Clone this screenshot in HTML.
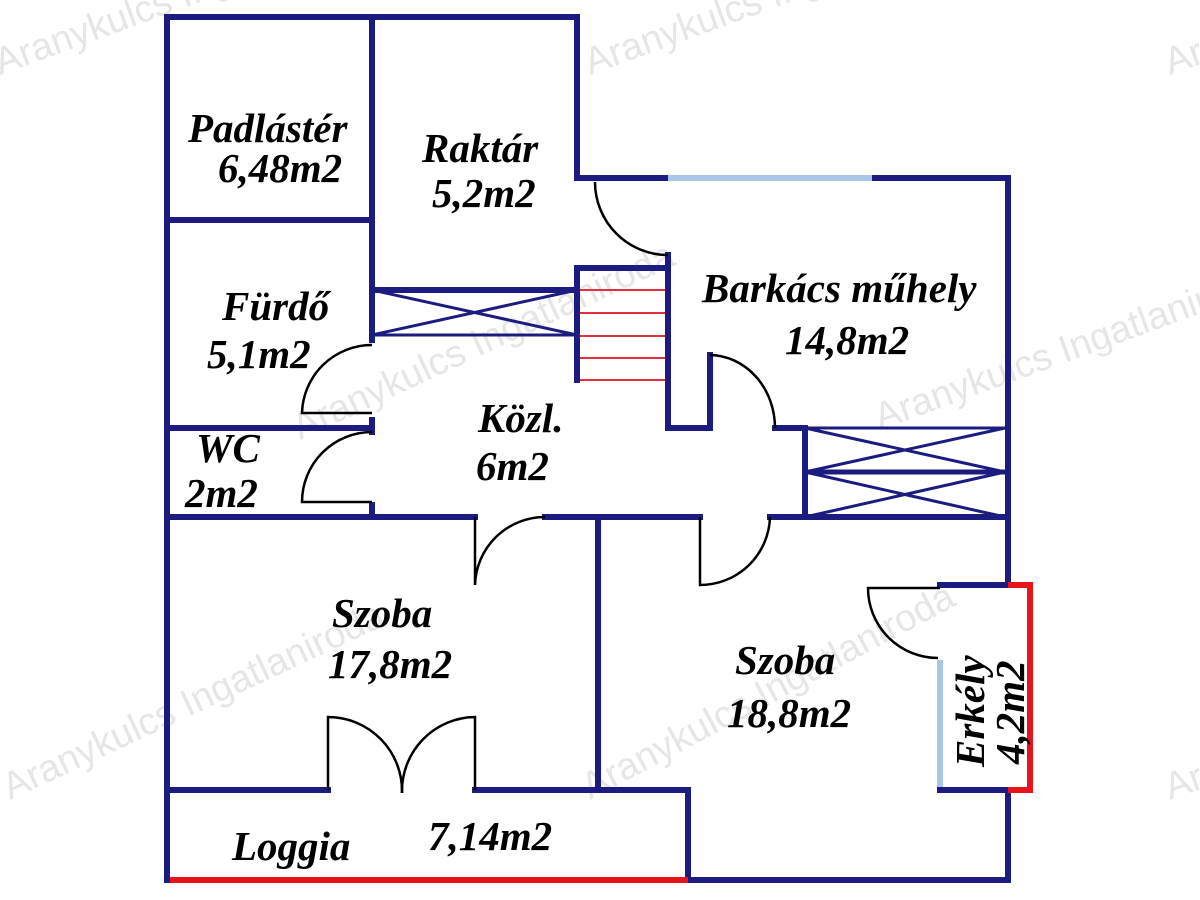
<!DOCTYPE html>
<html><head><meta charset="utf-8"><style>
html,body{margin:0;padding:0;background:#fff;}
svg{display:block;}
text.l{font-family:"Liberation Serif",serif;font-style:italic;font-weight:bold;font-size:41px;fill:#000;}
text.w{font-family:"Liberation Sans",sans-serif;font-size:38px;fill:#e6e6e6;}
</style></head><body>
<svg width="1200" height="900" viewBox="0 0 1200 900" xmlns="http://www.w3.org/2000/svg">
<rect width="1200" height="900" fill="#fff"/>
<g>
<text class="w" transform="translate(0,75) rotate(-20)">Aranykulcs Ingatlaniroda</text>
<text class="w" transform="translate(590,75) rotate(-20)">Aranykulcs Ingatlaniroda</text>
<text class="w" transform="translate(300,440) rotate(-25)">Aranykulcs Ingatlaniroda</text>
<text class="w" transform="translate(880,430) rotate(-20)">Aranykulcs Ingatlaniroda</text>
<text class="w" transform="translate(10,800) rotate(-25)">Aranykulcs Ingatlaniroda</text>
<text class="w" transform="translate(590,800) rotate(-28)">Aranykulcs Ingatlaniroda</text>
<text class="w" transform="translate(1170,75) rotate(-20)">Ar</text>
<text class="w" transform="translate(1170,800) rotate(-20)">Ar</text>
</g>
<g stroke="#1c1c80" stroke-width="6" fill="none" stroke-linecap="square">
<path d="M167,17 V880"/>
<path d="M167,17 H577 V178 H668"/>
<path d="M872,178 H1008 V585 H940"/>
<path d="M940,790 H1008 V880 H688"/>
<path d="M688,880 V790 H475"/>
<path d="M328,790 H167"/>
<path d="M372,17 V340"/>
<path d="M372,420 V432"/>
<path d="M372,505 V517"/>
<path d="M167,220 H372"/>
<path d="M167,428 H372"/>
<path d="M167,517 H475"/>
<path d="M545,517 H700"/>
<path d="M770,517 H1008"/>
<path d="M598,520 V790"/>
<path d="M372,290 H577"/>
<path d="M577,268 H668"/>
<path d="M577,268 V380"/>
<path d="M668,255 V428 H710 V355"/>
<path d="M775,428 H805 V517"/>
<path d="M805,472 H1005" stroke-width="5"/>
</g>
<g stroke="#1c1c80" stroke-width="3" fill="none">
<path d="M372,335 H577 M372,290 L577,335 M372,335 L577,290"/>
<path d="M805,428 H1005 M805,428 L1005,472 M805,472 L1005,428"/>
<path d="M805,517 L1005,472 M805,472 L1005,517"/>
</g>
<path d="M668,178 H872" stroke="#a9c6e8" stroke-width="6"/>
<path d="M940,660 V787" stroke="#a9c6e8" stroke-width="6"/>
<path d="M1008,585 H1030 V790 H1008" stroke="#e8141c" stroke-width="6" fill="none"/>
<path d="M170,880 H688" stroke="#e8141c" stroke-width="6"/>
<g stroke="#e03040" stroke-width="2">
<path d="M580,290 H665 M580,313 H665 M580,336 H665 M580,358 H665 M580,380 H665"/>
</g>
<g stroke="#000" stroke-width="2.5" fill="none">
<path d="M595,182 A73,73 0 0 0 668,255"/>
<path d="M372,345 A70,70 0 0 0 302,413 H372"/>
<path d="M372,432 A70,70 0 0 0 302,502 H372"/>
<path d="M475,517 V585 A70,70 0 0 1 545,517"/>
<path d="M700,517 V585 A70,70 0 0 0 770,517"/>
<path d="M710,355 A66,73 0 0 1 775,428"/>
<path d="M940,588 H868 A70,70 0 0 0 938,658"/>
<path d="M328,790 V717 A74,74 0 0 1 402,793"/>
<path d="M475,790 V717 A74,74 0 0 0 402,793"/>
</g>
<text class="l" x="188" y="142">Padlástér</text>
<text class="l" x="218" y="182">6,48m2</text>
<text class="l" x="422" y="162">Raktár</text>
<text class="l" x="432" y="207">5,2m2</text>
<text class="l" x="702" y="302">Barkács műhely</text>
<text class="l" x="785" y="354">14,8m2</text>
<text class="l" x="222" y="320">Fürdő</text>
<text class="l" x="207" y="368">5,1m2</text>
<text class="l" x="478" y="432">Közl.</text>
<text class="l" x="476" y="480">6m2</text>
<text class="l" x="196" y="462">WC</text>
<text class="l" x="185" y="507">2m2</text>
<text class="l" x="332" y="627">Szoba</text>
<text class="l" x="328" y="678">17,8m2</text>
<text class="l" x="735" y="674">Szoba</text>
<text class="l" x="727" y="727">18,8m2</text>
<text class="l" x="232" y="860">Loggia</text>
<text class="l" x="428" y="850">7,14m2</text>
<text class="l" transform="translate(984,767) rotate(-90)">Erkély</text>
<text class="l" transform="translate(1024,764) rotate(-90)">4,2m2</text>
</svg>
</body></html>
